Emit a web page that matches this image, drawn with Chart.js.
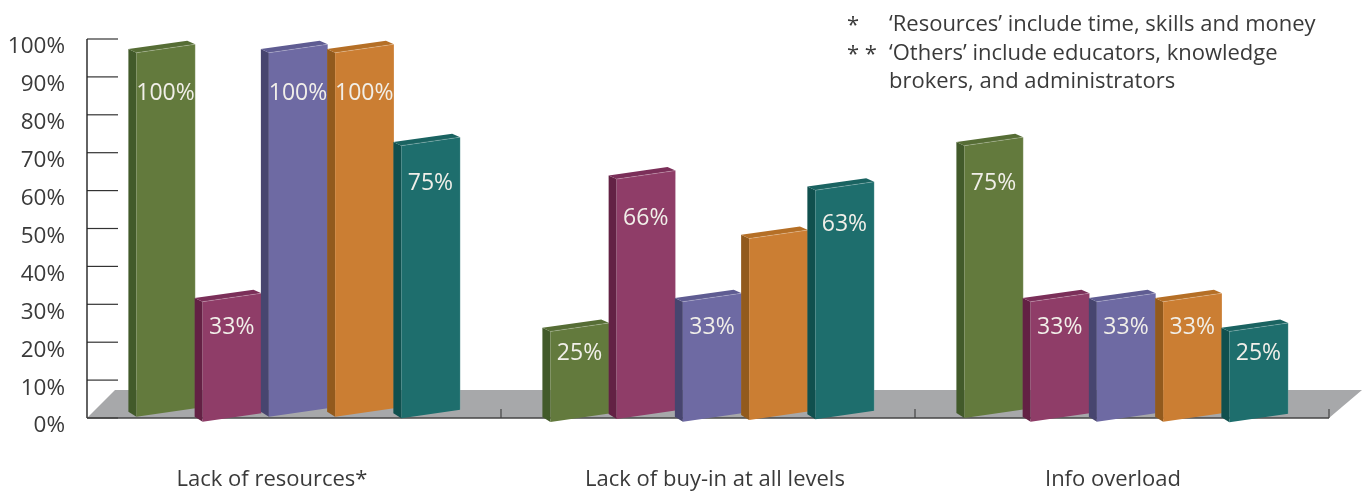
<!DOCTYPE html>
<html>
<head>
<meta charset="utf-8">
<title>Barriers chart</title>
<script src="https://cdn.jsdelivr.net/npm/chart.js@4/dist/chart.umd.js"></script>
<style>
  html, body { margin: 0; padding: 0; background: #fff; }
  canvas { display: block; }
</style>
</head>
<body>
<canvas id="chart" width="1370" height="492"></canvas>
<script>
const categories = ["Lack of resources*", "Lack of buy-in at all levels", "Info overload"];

const seriesNames = ["Series 1", "Series 2", "Series 3", "Series 4", "Series 5"];

const greenValues = [100, 25, 75];
const magentaValues = [33, 66, 33];
const purpleValues = [100, 33, 33];
const orangeValues = [100, 50, 33];
const tealValues = [75, 63, 25];

// Where each bar's foot sits, they do not line up exactly in the picture
const greenFloor = [2.05, 0.6, 1.7];
const magentaFloor = [0.7, 1.4, 0.7];
const purpleFloor = [2.05, 0.7, 0.7];
const orangeFloor = [2.05, 1.15, 0.7];
const tealFloor = [1.6, 1.35, 0.55];

const tickValues = [0, 10, 20, 30, 40, 50, 60, 70, 80, 90, 100];

const notes = [
  ["*", "\u2018Resources\u2019 include time, skills and money"],
  ["* *", "\u2018Others\u2019 include educators, knowledge"],
  ["", "brokers, and administrators"],
];

// series index, category index of the bar that has no printed value
const unlabelled = [[3, 1]];

const FONT = "'Open Sans', 'Noto Sans', sans-serif";
const frontColors = ["#637a3d", "#8f3d68", "#6e6aa3", "#cb7e33", "#1e6e6d"];
const sideColors = ["#425a2a", "#632144", "#47456f", "#925a1d", "#10504e"];
const topColors = ["#566d35", "#7b2f59", "#5f5c92", "#b56f26", "#1a6361"];

const pairUp = (lows, highs) => highs.map((h, i) => [lows[i], h]);
const floors = [greenFloor, magentaFloor, purpleFloor, orangeFloor, tealFloor];
const values = [greenValues, magentaValues, purpleValues, orangeValues, tealValues];

function poly(ctx, pts, fill) {
  ctx.beginPath();
  pts.forEach((p, i) => (i ? ctx.lineTo(p[0], p[1]) : ctx.moveTo(p[0], p[1])));
  ctx.closePath();
  ctx.fillStyle = fill;
  ctx.fill();
}

function line(ctx, x1, y1, x2, y2, color, width) {
  ctx.beginPath();
  ctx.moveTo(x1, y1);
  ctx.lineTo(x2, y2);
  ctx.strokeStyle = color;
  ctx.lineWidth = width;
  ctx.stroke();
}

// Drop of the printed value below the bar top, depends on how tall the bar is
const labelDrop = { 25: 20, 33: 24, 50: 30, 63: 32, 66: 37, 75: 36, 100: 39 };

const scene3d = {
  id: "scene3d",
  beforeDraw(chart) {
    // category labels are not centred under their groups in the picture
    const shift = [-22, 7, -9];
    if (!chart.$labelsMoved) {
      chart.scales.x.getLabelItems().forEach((item, i) => {
        item.options.translation[0] += shift[i];
      });
      chart.$labelsMoved = true;
    }
  },
  beforeDatasetsDraw(chart) {
    const ctx = chart.ctx;
    const xs = chart.scales.x;
    const ys = chart.scales.y;
    ctx.save();

    // floor
    poly(ctx, [
      [xs.left, ys.bottom],
      [xs.left + 28, ys.bottom - 28],
      [xs.right + 33, ys.bottom - 28],
      [xs.right, ys.bottom],
    ], "#a7a8aa");

    // axes and tick marks
    ys.ticks.forEach((t, i) => {
      const y = ys.getPixelForTick(i);
      line(ctx, xs.left, y, xs.left + 31, y, "#333", 1.2);
    });
    line(ctx, xs.left, ys.top, xs.left, ys.bottom, "#222", 1.4);
    line(ctx, xs.left, ys.bottom, xs.right, ys.bottom, "#444", 1.6);
    categories.forEach((c, i) => {
      const x = xs.getPixelForValue(i + 0.5);
      line(ctx, x, ys.bottom, x, ys.bottom - 9, "#444", 1.2);
    });

    // bars, left to right so each one covers the side of the last
    categories.forEach((c, ci) => {
      chart.data.datasets.forEach((ds, si) => {
        const bar = chart.getDatasetMeta(si).data[ci];
        const { x, y, base, width } = bar.getProps(["x", "y", "base", "width"], true);
        const l = x - width / 2;
        const r = x + width / 2 + 0.6;
        const depth = 8;
        const rise = 8.5;
        poly(ctx, [[l, y - 3.7], [l + depth, y], [l + depth, base], [l, base - 5]], sideColors[si]);
        poly(ctx, [[l, y - 3.7], [r - depth, y - 12], [r, y - rise], [l + depth, y]], topColors[si]);
        poly(ctx, [[l + depth, y], [r, y - rise], [r, base - rise], [l + depth, base]], ds.backgroundColor);
        line(ctx, l + depth, y, r, y - rise, "rgba(255,255,255,0.2)", 1);
        line(ctx, r, y - rise, r, base - rise, "rgba(255,255,255,0.15)", 1);
      });
    });

    // printed values on the bars
    ctx.font = "23px " + FONT;
    ctx.fillStyle = "#f1efe9";
    ctx.textAlign = "center";
    ctx.textBaseline = "middle";
    categories.forEach((c, ci) => {
      values.forEach((vals, si) => {
        if (unlabelled.some((u) => u[0] === si && u[1] === ci)) return;
        const bar = chart.getDatasetMeta(si).data[ci];
        const { x, y } = bar.getProps(["x", "y"], true);
        ctx.fillText(vals[ci] + "%", x + 4, y + labelDrop[vals[ci]] + 2);
      });
    });

    // footnotes, top right
    ctx.font = "22px " + FONT;
    ctx.fillStyle = "#3a3a3a";
    ctx.textAlign = "left";
    notes.forEach((n, i) => {
      const y = 25 + i * 28.5;
      ctx.fillText(n[0], 847, y + (n[0] ? 1 : 0));
      ctx.fillText(n[1], 889, y);
    });

    ctx.restore();
    return false; // native flat bars are not wanted
  },
};

new Chart(document.getElementById("chart"), {
  type: "bar",
  data: {
    labels: categories,
    datasets: seriesNames.map((name, i) => ({
      label: name,
      data: pairUp(floors[i], values[i]),
      backgroundColor: frontColors[i],
      yAxisID: "yBars",
      categoryPercentage: 0.8,
      barPercentage: 1,
    })),
  },
  options: {
    responsive: false,
    animation: false,
    layout: { padding: { top: 39, right: 41, left: 0, bottom: 0 } },
    plugins: {
      legend: { display: false },
      tooltip: { enabled: false },
      title: { display: false },
    },
    scales: {
      x: {
        grid: { display: false },
        border: { display: false },
        ticks: {
          color: "#3a3a3a",
          padding: 41,
          maxRotation: 0,
          font: { family: FONT, size: 22 },
        },
        afterFit(scale) {
          scale.height = 74;
        },
      },
      // the visible ruler
      y: {
        min: 0,
        max: 100,
        grid: { display: false },
        border: { display: false },
        afterBuildTicks(scale) {
          scale.ticks = tickValues.map((value) => ({ value }));
        },
        ticks: {
          color: "#3a3a3a",
          padding: 14,
          labelOffset: 8,
          font: { family: FONT, size: 22.5 },
          callback: (v) => v + "%",
        },
        afterFit(scale) {
          scale.width = 87;
        },
      },
      // front faces of the bars run on a slightly tighter scale than the ruler
      yBars: {
        display: false,
        min: 1.7,
        max: 103.7,
      },
    },
  },
  plugins: [scene3d],
});
</script>
</body>
</html>
